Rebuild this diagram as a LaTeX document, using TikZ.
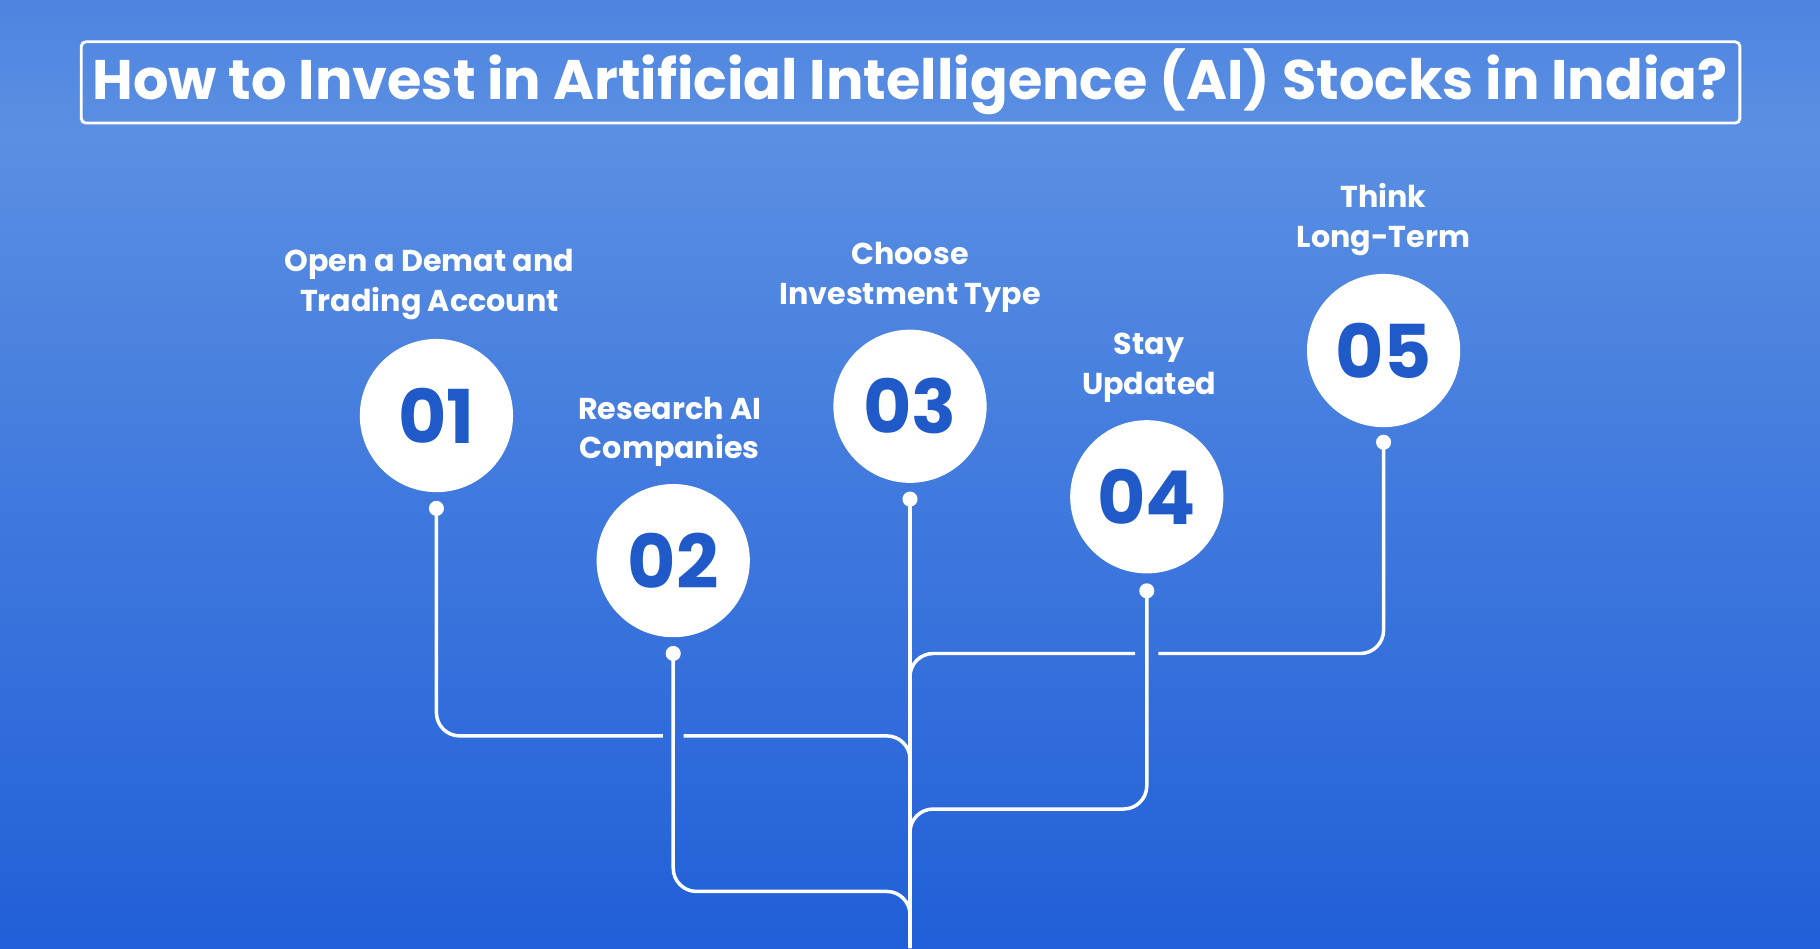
\documentclass[tikz,border=0pt]{standalone}
\usepackage{fontspec}
\setmainfont{Poppins}
\definecolor{numblue}{HTML}{1F5AC8}
\definecolor{topb}{HTML}{0A4CD4}
\definecolor{midb}{HTML}{5A8FE2}
\definecolor{botb}{HTML}{2A66DA}
\pgfdeclareverticalshading{bgshade}{100bp}{color(0bp)=(topb); color(8bp)=(topb); color(68bp)=(midb); color(95bp)=(botb); color(100bp)=(botb)}
\begin{document}
\begin{tikzpicture}[x=1pt,y=-1pt,
  circ/.style={circle,fill=white,minimum size=132pt,inner sep=0pt,text=numblue,font=\fontsize{64}{64}\selectfont\bfseries},
  lbl/.style={text=white,align=center,font=\fontsize{26}{34}\selectfont\bfseries},
  ln/.style={white,line width=3pt,rounded corners=20pt},
  dot/.style={circle,fill=white,minimum size=13pt,inner sep=0pt}]
\useasboundingbox (0,0) rectangle (1568,817);
\shade[shading=bgshade] (0,0) rectangle (1568,817);
\draw[white,line width=2.5pt,rounded corners=4pt] (70,36) rectangle (1499,106);
\node[text=white,font=\fontsize{48}{52}\selectfont\bfseries] (title) at (784,70) {How to Invest in Artificial Intelligence (AI) Stocks in India?};
% circles
\node[circ] (c1) at (376,358) {01};
\node[circ] (c2) at (580,483) {02};
\node[circ] (c3) at (784,350) {03};
\node[circ] (c4) at (988,428) {04};
\node[circ] (c5) at (1192,302) {05};
\node[dot] (d1) at (376,438) {};
\node[dot] (d2) at (580,563) {};
\node[dot] (d3) at (784,430) {};
\node[dot] (d4) at (988,509) {};
\node[dot] (d5) at (1192,381) {};
\coordinate (b) at (784,817);
% labels
\node[lbl] (l1) at (370,245) {Open a Demat and\\Trading Account};
\node[lbl] (l2) at (577,372) {Research AI\\Companies};
\node[lbl] (l3) at (784,239) {Choose\\Investment Type};
\node[lbl] (l4) at (990,317) {Stay\\Updated};
\node[lbl] (l5) at (1192,189) {Think\\Long-Term};
% lines
\draw[ln] (d1.center) -- (376,634) -- (571,634);
\draw[ln] (589,634) -- (784,634) -- (784,700);
\draw[ln] (d2.center) -- (580,768) -- (784,768) -- (b);
\draw[ln] (d3.center) -- (b);
\draw[ln] (d4.center) -- (988,697) -- (784,697) -- (784,760);
\draw[ln] (d5.center) -- (1192,563) -- (998,563);
\draw[ln] (978,563) -- (784,563) -- (784,620);
\end{tikzpicture}
\end{document}
